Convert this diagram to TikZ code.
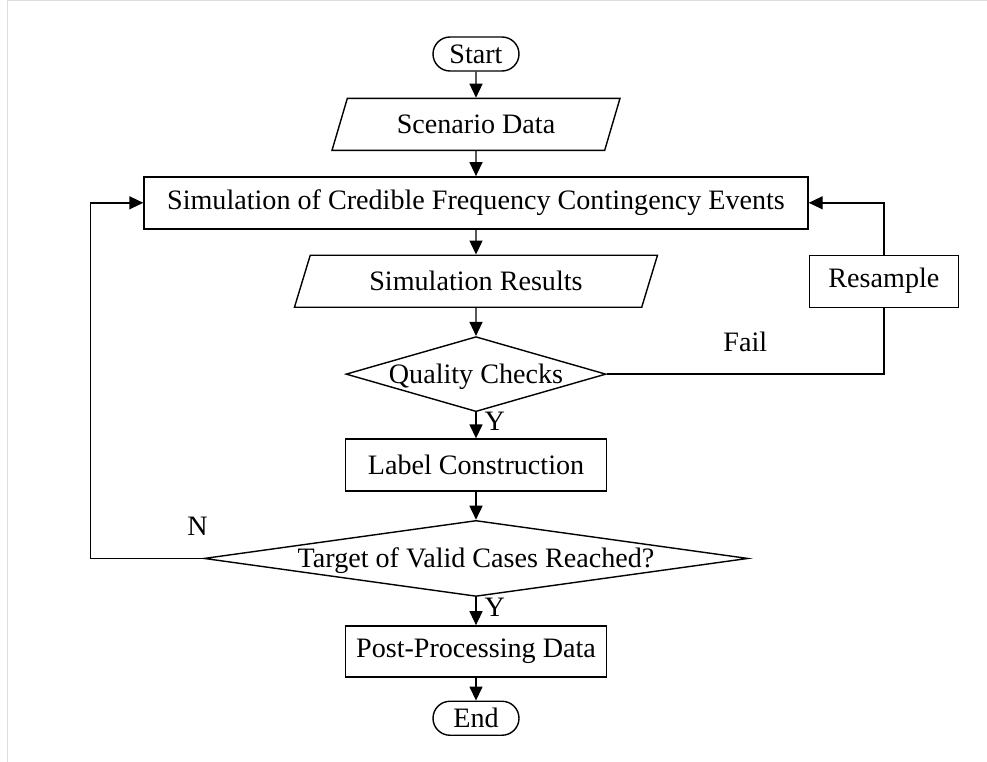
\documentclass[tikz,border=0pt]{standalone}
\usepackage{fontspec}
\setmainfont{Liberation Serif}
\usepackage{tikz}
\usetikzlibrary{positioning,arrows.meta,shapes.geometric,calc}
\definecolor{framegray}{RGB}{222,222,222}
\tikzset{
  base/.style={draw=black, line width=0.8pt, align=center, font=\fontsize{16}{19}\selectfont},
  term/.style={base, rectangle, rounded corners=0.34cm, minimum width=1.72cm, minimum height=0.68cm, inner sep=2pt},
  io/.style={base, trapezium, trapezium left angle=63.4, trapezium right angle=116.6, trapezium stretches body=true, minimum height=1.04cm},
  proc/.style={base, rectangle, minimum width=5.22cm, minimum height=1.04cm},
  dec/.style={base, diamond, inner sep=0pt, text height=0.37cm, text depth=0pt},
  lbl/.style={font=\fontsize{16}{19}\selectfont},
  arr/.style={-{Triangle[length=0.28cm, width=0.26cm]}, line width=0.8pt, draw=black},
  link/.style={line width=0.8pt, draw=black},
}
\begin{document}
\begin{tikzpicture}
    \useasboundingbox (0,0) rectangle (19.74,-15.24);
    \draw[framegray, line width=0.6pt] (0.15,-15.24) -- (0.15,-0.01) -- (19.74,-0.01);
    \node[term] (start) at (9.52,-1.08) {Start};
    \node[io, minimum width=5.76cm, below=0.52cm of start] (scen) {Scenario Data};
    \node[proc, minimum width=13.28cm, below=0.5cm of scen] (sim) {Simulation of Credible Frequency Contingency Events};
    \node[io, minimum width=7.26cm, below=0.5cm of sim] (simres) {Simulation Results};
    \node[dec, aspect=3.47, minimum width=5.2cm, minimum height=1.5cm, below=0.56cm of simres] (qc) {Quality Checks};
    \node[proc, below=0.52cm of qc] (lab) {Label Construction};
    \node[dec, aspect=7.16, minimum width=10.88cm, minimum height=1.52cm, below=0.56cm of lab] (tgt) {Target of Valid Cases Reached?};
    \node[proc, minimum height=1.02cm, below=0.56cm of tgt] (post) {Post-Processing Data};
    \node[term, below=0.46cm of post] (fin) {End};
    \node[proc, minimum width=2.98cm, anchor=west] (res) at (sim.east |- simres) {Resample};
    \foreach \a/\b in {start/scen,scen/sim,sim/simres,simres/qc,lab/tgt,post/fin}{\draw[arr] (\a)--(\b);}
    \draw[arr] (qc) -- node[right,lbl,xshift=0.04cm,yshift=0.08cm]{Y} (lab);
    \draw[arr] (tgt) -- node[right,lbl,xshift=0.04cm,yshift=0.08cm]{Y} (post);
    \draw[link] (qc.east) -| node[pos=0.25,above=0.32cm,lbl]{Fail} (res.south);
    \draw[arr] (res.north) |- (sim.east);
    \draw[arr] (tgt.west) -- node[pos=0.05,above=0.32cm,lbl]{N} ++(-2.26,0) |- (sim.west);
\end{tikzpicture}
\end{document}
